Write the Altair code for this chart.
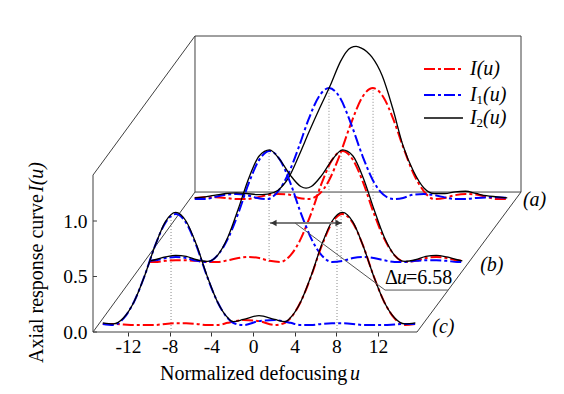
import altair as alt
import pandas as pd

# ------------------------------------------------------------------ values
x_ticks = [-12, -8, -4, 0, 4, 8, 12]
y_ticks = [0.0, 0.5, 1.0]

layer_names = ["(a)", "(b)", "(c)"]
layer_dx = [9.40, 5.09, 0.58]      # waterfall shift of each trace along u
layer_dy = [1.198, 0.631, 0.063]   # waterfall shift of each trace along I

# trace (a)
u_a = [-15, -14, -13, -12, -11, -10, -9, -8, -7, -6, -5, -4.1, -3.1, -2.1, -1.1, 0,
       1.1, 2.1, 3.1, 4.1, 5, 6, 7, 8, 9, 10, 11, 12, 13, 14, 15]
I_a = [0.01, 0.015, 0.015, 0.01, 0.00, 0.00, 0.015, 0.035, 0.045, 0.04, 0.01, 0.00, 0.04, 0.17, 0.39, 0.68,
       0.92, 1.00, 0.92, 0.71, 0.47, 0.23, 0.07, 0.00, 0.01, 0.035, 0.045, 0.04, 0.02, 0.00, 0.00]
I1_a = [0.00, 0.00, 0.02, 0.04, 0.045, 0.035, 0.01, 0.00, 0.07, 0.23, 0.47, 0.71, 0.92, 1.00, 0.92, 0.68,
        0.39, 0.17, 0.04, 0.00, 0.01, 0.04, 0.045, 0.035, 0.015, 0.00, 0.00, 0.01, 0.015, 0.015, 0.01]
u2_a = [-15, -14, -13, -12, -11, -10, -9, -8, -7, -6, -5, -4, -3, -2, -1, -0.5, 0, 0.5, 1, 1.5, 2,
        3, 4, 5, 6, 7, 8, 9, 10, 11, 12, 13, 14, 15]
I2_a = [0.01, 0.02, 0.035, 0.05, 0.055, 0.05, 0.04, 0.045, 0.08, 0.19, 0.39, 0.61, 0.82, 1.02, 1.24, 1.32,
        1.365, 1.375, 1.36, 1.33, 1.28, 1.11, 0.82, 0.48, 0.25, 0.10, 0.05, 0.05, 0.065, 0.07, 0.05, 0.03,
        0.02, 0.01]

# trace (b)
u_b = [-15, -14.5, -13.5, -12.5, -11.5, -10.5, -9.5, -8.5, -7.5, -6.5, -5.5, -4.5, -3.5, -2.5, -1.5, -0.5, 0,
       0.5, 1.5, 2.5, 3.5, 4.5, 5.5, 6.5, 7.5, 8.5, 9.5, 10.5, 11.5, 12.5, 13.5, 14.5, 15]
I_b = [0.00, 0.00, 0.01, 0.015, 0.015, 0.01, 0.00, 0.00, 0.015, 0.035, 0.045, 0.035, 0.01, 0.00, 0.06, 0.21, 0.32,
       0.44, 0.71, 0.92, 1.00, 0.92, 0.71, 0.44, 0.21, 0.06, 0.00, 0.01, 0.035, 0.045, 0.035, 0.015, 0.01]
I1_b = [0.01, 0.015, 0.035, 0.045, 0.035, 0.01, 0.00, 0.06, 0.21, 0.44, 0.71, 0.92, 1.00, 0.92, 0.71, 0.44, 0.32,
        0.21, 0.06, 0.00, 0.01, 0.035, 0.045, 0.035, 0.015, 0.00, 0.00, 0.01, 0.015, 0.015, 0.01, 0.00, 0.00]
I2_b = [0.01, 0.02, 0.045, 0.06, 0.05, 0.02, 0.005, 0.06, 0.225, 0.48, 0.755, 0.955, 1.01, 0.92, 0.78, 0.68, 0.665,
        0.68, 0.78, 0.92, 1.01, 0.955, 0.755, 0.48, 0.225, 0.06, 0.005, 0.02, 0.05, 0.06, 0.045, 0.02, 0.01]

# trace (c)
u_c = [-15, -14, -13, -12, -11, -10, -9, -8, -7, -6, -5, -4, -3, -2.5, -1.5, 0,
       1.5, 2.5, 3, 4, 5, 6, 7, 8, 9, 10, 11, 12, 13, 14, 15]
I_c = [0.01, 0.01, 0.005, 0.00, 0.00, 0.00, 0.01, 0.015, 0.015, 0.01, 0.00, 0.00, 0.02, 0.03, 0.045, 0.035,
       0.00, 0.02, 0.06, 0.21, 0.44, 0.71, 0.92, 1.00, 0.92, 0.71, 0.44, 0.21, 0.06, 0.00, 0.01]
I1_c = [0.01, 0.00, 0.06, 0.21, 0.44, 0.71, 0.92, 1.00, 0.92, 0.71, 0.44, 0.21, 0.06, 0.02, 0.00, 0.035,
        0.045, 0.03, 0.02, 0.00, 0.00, 0.01, 0.015, 0.015, 0.01, 0.00, 0.00, 0.00, 0.005, 0.01, 0.01]
I2_c = [0.02, 0.01, 0.065, 0.21, 0.44, 0.71, 0.93, 1.015, 0.935, 0.72, 0.445, 0.21, 0.065, 0.03, 0.05, 0.085,
        0.05, 0.03, 0.065, 0.21, 0.445, 0.72, 0.935, 1.015, 0.93, 0.71, 0.44, 0.21, 0.065, 0.01, 0.02]

# peak markers (dotted verticals), in plot coordinates
peak_u = [-7.87, 8.06, 1.54, 8.45, 7.29, 11.52]
peak_lo = [0.0, 0.0, 0.63, 0.63, 1.20, 1.20]
peak_hi = [1.04, 1.04, 1.64, 1.64, 2.20, 2.20]

# pseudo-3D frame: bottom/left axis, diagonals, back panel
frame_x1 = [-15.36, -15.36, -15.36, -15.36, 15.74, -5.57, 25.72, 25.72, -5.57]
frame_y1 = [0.0, 0.0, 0.0, 1.414, 0.0, 1.261, 1.261, 2.667, 2.667]
frame_x2 = [15.74, -15.36, -5.57, -5.57, 25.72, 25.72, 25.72, -5.57, -5.57]
frame_y2 = [0.0, 1.414, 1.261, 2.667, 1.261, 1.261, 2.667, 2.667, 1.261]

# shift annotation
shift_from, shift_to, shift_level = 1.63, 8.54, 0.982
shift_text = "=6.58"

# ------------------------------------------------------------------ chart
FONT = "Liberation Serif"
xs = alt.Scale(domain=[-15.36, 25.72], nice=False, zero=False)
ys = alt.Scale(domain=[0, 2.667], nice=False, zero=False)
x_axis = alt.Axis(values=x_ticks, title=None, domain=False, grid=False, ticks=True, tickSize=4,
                  tickColor="#333333", labelFont=FONT, labelFontSize=19.5, labelColor="black",
                  labelPadding=1, labelFlush=False, labelOverlap=False,
                  labelExpr="datum.value < 0 ? '-' + abs(datum.value) : '' + datum.value")
y_axis = alt.Axis(values=y_ticks, format=".1f", title=None, domain=False, grid=False, ticks=False,
                  tickSize=0, labelFont=FONT, labelFontSize=19.5, labelColor="black",
                  labelPadding=6, labelFlush=False, labelOverlap=False)


def X(f="x"):
    return alt.X(f"{f}:Q", scale=xs, axis=x_axis)


def Y(f="y"):
    return alt.Y(f"{f}:Q", scale=ys, axis=y_axis)


charts = []

frame = pd.DataFrame({"x": frame_x1, "y": frame_y1, "x2": frame_x2, "y2": frame_y2})
charts.append(alt.Chart(frame).mark_rule(color="#404040", strokeWidth=1).encode(
    x=X(), y=Y(), x2="x2:Q", y2="y2:Q"))

ytk = pd.DataFrame({"x": [-15.36] * 3, "x2": [-14.98] * 3, "y": y_ticks, "y2": y_ticks})
charts.append(alt.Chart(ytk).mark_rule(color="#404040", strokeWidth=1).encode(
    x=X(), y=Y(), x2="x2:Q", y2="y2:Q"))

dots = pd.DataFrame({"x": peak_u, "y": peak_lo, "y2": peak_hi})
charts.append(alt.Chart(dots).mark_rule(color="#8a8a8a", strokeWidth=1, strokeDash=[1, 2]).encode(
    x=X(), y=Y(), y2="y2:Q"))

styles = {
    "I": dict(color="#ff0000", strokeWidth=2, strokeDash=[11, 3, 3, 3]),
    "I1": dict(color="#0000ff", strokeWidth=2, strokeDash=[11, 3, 3, 3]),
    "I2": dict(color="#000000", strokeWidth=1.3),
}
traces = [
    ((u_a, I_a), (u_a, I1_a), (u2_a, I2_a)),
    ((u_b, I_b), (u_b, I1_b), (u_b, I2_b)),
    ((u_c, I_c), (u_c, I1_c), (u_c, I2_c)),
]
for dx, dy, trio in zip(layer_dx, layer_dy, traces):
    for s, (u, vals) in zip(("I", "I1", "I2"), trio):
        df = pd.DataFrame({"x": [p + dx for p in u], "y": [v + dy for v in vals]})
        charts.append(alt.Chart(df).mark_line(interpolate="monotone", **styles[s]).encode(x=X(), y=Y()))

# shift arrow + leader
arr = pd.DataFrame({"x": [shift_from], "x2": [shift_to], "y": [shift_level]})
charts.append(alt.Chart(arr).mark_rule(color="#7a7a7a", strokeWidth=2).encode(x=X(), x2="x2:Q", y=Y()))
heads = pd.DataFrame({"x": [shift_from + 0.35, shift_to - 0.35], "y": [shift_level] * 2,
                      "s": ["triangle-left", "triangle-right"]})
charts.append(alt.Chart(heads).mark_point(filled=True, color="#333333", size=45, opacity=1).encode(
    x=X(), y=Y(), shape=alt.Shape("s:N", scale=None, legend=None)))
lead = pd.DataFrame({"x": [4.03, 12.67], "y": [shift_level, 0.378], "x2": [12.67, 18.71], "y2": [0.378, 0.378]})
charts.append(alt.Chart(lead).mark_rule(color="#555555", strokeWidth=1).encode(
    x=X(), y=Y(), x2="x2:Q", y2="y2:Q"))


def txt(x, y, t, **kw):
    base = dict(font=FONT, color="black", fontSize=20, align="left", baseline="alphabetic")
    base.update(kw)
    df = pd.DataFrame({"x": [x], "y": [y], "t": [t]})
    return alt.Chart(df).mark_text(**base).encode(x=X(), y=Y(), text="t:N")


# shift label
charts.append(txt(12.67, 0.432, "\u0394"))
charts.append(txt(12.67, 0.432, "u", fontStyle="italic", dx=12))
charts.append(txt(12.67, 0.432, shift_text, dx=21))

# trace labels
charts.append(txt(25.9, 1.19, layer_names[0], fontStyle="italic", baseline="middle"))
charts.append(txt(21.8, 0.604, layer_names[1], fontStyle="italic", baseline="middle"))
charts.append(txt(17.2, 0.045, layer_names[2], fontStyle="italic", baseline="middle"))

# legend
leg_y = [2.369, 2.135, 1.928]
for s, ly in zip(["I", "I1", "I2"], leg_y):
    ldf = pd.DataFrame({"x": [16.41], "x2": [20.15], "y": [ly]})
    charts.append(alt.Chart(ldf).mark_rule(**styles[s]).encode(x=X(), x2="x2:Q", y=Y()))
charts.append(txt(20.83, leg_y[0], "I(u)", fontStyle="italic", baseline="middle"))
for sub, ly in (("1", leg_y[1]), ("2", leg_y[2])):
    charts.append(txt(20.83, ly, "I", fontStyle="italic", baseline="middle"))
    charts.append(txt(20.83, ly, sub, fontSize=13, baseline="middle", dx=6.5, dy=5))
    charts.append(txt(20.83, ly, "(u)", fontStyle="italic", baseline="middle", dx=13))

# axis titles
charts.append(txt(-8.93, -0.432, "Normalized defocusing"))
charts.append(txt(10.27, -0.432, "u", fontStyle="italic", align="right"))
charts.append(txt(-20.15, -0.279, "Axial response curve", angle=270))
charts.append(txt(-20.15, 1.532, "I(u)", angle=270, fontStyle="italic", align="right"))

chart = alt.layer(*charts).properties(
    width=428, height=296,
    padding={"left": 85, "top": 28, "right": 30, "bottom": 60},
    autosize=alt.AutoSizeParams(type="none"),
).configure_view(strokeWidth=0)

chart.save("out.html", embed_options={"renderer": "svg", "actions": False})
